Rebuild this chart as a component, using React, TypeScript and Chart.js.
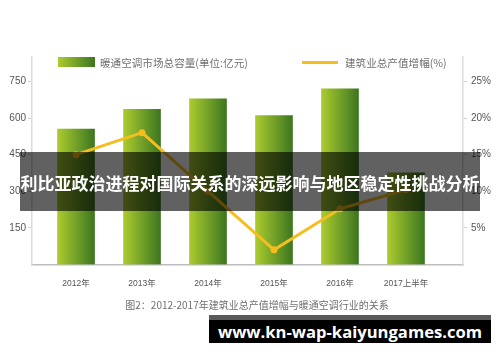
import React, { useEffect, useRef } from "react";
import { Chart, registerables } from "chart.js";

Chart.register(...registerables);

const years = ["2012年", "2013年", "2014年", "2015年", "2016年", "2017上半年"];
const marketSize = [555, 636, 679, 610, 720, 376];
const growthRate = [15, 18, 10, 2, 7.6, 10.2];
const leftTicks = [150, 300, 450, 600, 750];
const rightTicks = [5, 10, 15, 20, 25];
const barLegend = "暖通空调市场总容量(单位:亿元)";
const lineLegend = "建筑业总产值增幅(%)";
const bandTitle = "利比亚政治进程对国际关系的深远影响与地区稳定性挑战分析";
const caption = "图2：2012-2017年建筑业总产值增幅与暖通空调行业的关系";
const site = "www.kn-wap-kaiyungames.com";

const BAR_LIGHT = "#abcb2e";
const BAR_DARK = "#3d7620";
const LINE_COLOR = "#f6bd1f";
const CJK = '"Noto Sans CJK SC", "Noto Sans", sans-serif';
const BAR_W = 37;

export default function App() {
  const canvasRef = useRef<HTMLCanvasElement | null>(null);

  useEffect(() => {
    const canvas = canvasRef.current;
    if (!canvas) return;

    const barFill = (c: any) => {
      const chart = c.chart;
      const xs = chart.scales && chart.scales.x;
      if (!xs || !chart.chartArea || c.dataIndex == null) return "#7aa82a";
      const cx = xs.getPixelForValue(c.dataIndex);
      const g = chart.ctx.createLinearGradient(cx - BAR_W / 2, 0, cx + BAR_W / 2, 0);
      g.addColorStop(0, BAR_LIGHT);
      g.addColorStop(1, BAR_DARK);
      return g;
    };

    const chart = new Chart(canvas, {
      type: "bar",
      data: {
        datasets: [
          {
            type: "line",
            label: lineLegend,
            data: growthRate.map((v, i) => ({ x: i, y: v })),
            yAxisID: "y1",
            xAxisID: "x",
            borderColor: LINE_COLOR,
            backgroundColor: LINE_COLOR,
            borderWidth: 3,
            pointRadius: 3.5,
            pointBackgroundColor: LINE_COLOR,
            pointBorderWidth: 0,
            tension: 0,
            order: 0,
          } as any,
          {
            type: "bar",
            label: barLegend,
            data: marketSize.map((v, i) => ({ x: i, y: v })),
            yAxisID: "y",
            xAxisID: "x",
            backgroundColor: barFill,
            barThickness: BAR_W,
            borderWidth: 0,
            order: 1,
          } as any,
        ],
      },
      options: {
        animation: false,
        responsive: false,
        maintainAspectRatio: false,
        layout: { padding: { top: 57, left: 0, right: 0, bottom: 0 } },
        plugins: {
          legend: { display: false },
          tooltip: { enabled: false },
        },
        scales: {
          x: {
            type: "linear",
            offset: false,
            min: -0.667,
            max: 5.864,
            grid: { display: false, offset: false },
            border: { display: true, color: "#bdbdbd", width: 1.5 },
            afterBuildTicks: (s: any) => {
              s.ticks = years.map((_, i) => ({ value: i }));
            },
            afterFit: (s: any) => {
              s.height = 97.5;
            },
            ticks: {
              autoSkip: false,
              maxRotation: 0,
              padding: 6,
              color: "#555",
              font: { family: '"Liberation Sans", ' + CJK, size: 8.5 },
              callback: (v: any) => years[Math.round(Number(v))] ?? "",
            },
          },
          y: {
            type: "linear",
            position: "left",
            min: 0,
            max: 850,
            grid: {
              display: true,
              drawOnChartArea: false,
              drawTicks: true,
              tickLength: 4,
              color: "#d0d0d0",
            },
            border: { display: true, color: "#dcdcdc", width: 1.5 },
            afterBuildTicks: (s: any) => {
              s.ticks = leftTicks.map((v) => ({ value: v }));
            },
            afterFit: (s: any) => {
              s.width = 32;
            },
            ticks: {
              padding: 2,
              color: "#555",
              font: { family: '"Liberation Sans", sans-serif', size: 10 },
            },
          },
          y1: {
            type: "linear",
            position: "right",
            min: 0,
            max: 850 / 30,
            grid: {
              display: true,
              drawOnChartArea: false,
              drawTicks: true,
              tickLength: 4,
              color: "#d0d0d0",
            },
            border: { display: true, color: "#dcdcdc", width: 1.5 },
            afterBuildTicks: (s: any) => {
              s.ticks = rightTicks.map((v) => ({ value: v }));
            },
            afterFit: (s: any) => {
              s.width = 37;
            },
            ticks: {
              padding: 4,
              color: "#555",
              font: { family: '"Liberation Sans", sans-serif', size: 10 },
              callback: (v: any) => v + "%",
            },
          },
        },
      } as any,
    });

    return () => chart.destroy();
  }, []);

  return (
    <div
      style={{
        position: "absolute",
        left: 0,
        top: 0,
        width: 500,
        height: 362,
        background: "#fff",
        overflow: "hidden",
      }}
    >
      <canvas
        ref={canvasRef}
        width={500}
        height={362}
        style={{ position: "absolute", left: 0, top: 0, width: 500, height: 362 }}
      />
      {/* legend */}
      <div
        style={{
          position: "absolute",
          left: 58,
          top: 57,
          width: 37,
          height: 10,
          background: `linear-gradient(to right, ${BAR_LIGHT}, ${BAR_DARK})`,
        }}
      />
      <div
        style={{
          position: "absolute",
          left: 100,
          top: 55,
          fontFamily: CJK,
          fontSize: 10.6,
          lineHeight: "16px",
          color: "#707070",
          whiteSpace: "nowrap",
        }}
      >
        {barLegend}
      </div>
      <div
        style={{
          position: "absolute",
          left: 302,
          top: 61,
          width: 36,
          height: 3,
          background: LINE_COLOR,
        }}
      />
      <div
        style={{
          position: "absolute",
          left: 345,
          top: 55,
          fontFamily: CJK,
          fontSize: 10.6,
          lineHeight: "16px",
          color: "#707070",
          whiteSpace: "nowrap",
        }}
      >
        {lineLegend}
      </div>
      {/* overlay band */}
      <div
        style={{
          position: "absolute",
          left: 20,
          top: 152,
          width: 460,
          height: 59,
          background: "rgba(0,0,0,0.62)",
          color: "#fff",
          fontFamily: CJK,
          fontWeight: 700,
          fontSize: 17,
          lineHeight: "61px",
          textAlign: "center",
          whiteSpace: "nowrap",
        }}
      >
        {bandTitle}
      </div>
      {/* caption */}
      <div
        style={{
          position: "absolute",
          left: 0,
          width: 514,
          top: 297,
          textAlign: "center",
          fontFamily: CJK,
          fontSize: 10,
          lineHeight: "16px",
          color: "#707070",
          whiteSpace: "nowrap",
        }}
      >
        {caption}
      </div>
      {/* banner */}
      <div
        style={{
          position: "absolute",
          left: 209,
          top: 315,
          width: 282,
          height: 28,
          background: "#000",
          borderTop: "5px solid #5a5a5a",
          boxSizing: "border-box",
          color: "#fff",
          fontFamily: '"Open Sans", "Noto Sans", sans-serif',
          fontWeight: 700,
          fontSize: 16.6,
          lineHeight: "23px",
          textAlign: "center",
          whiteSpace: "nowrap",
        }}
      >
        {site}
      </div>
    </div>
  );
}
